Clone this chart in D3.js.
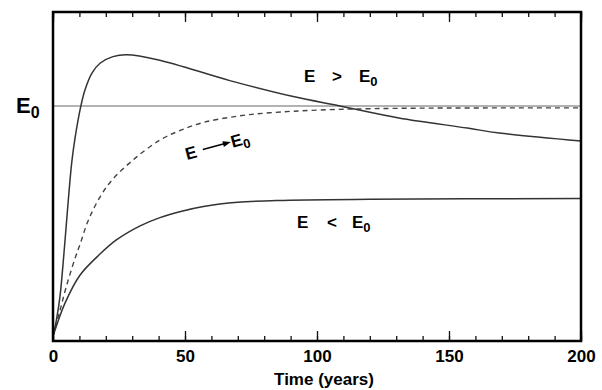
<!DOCTYPE html>
<html>
<head>
<meta charset="utf-8">
<script src="https://cdn.jsdelivr.net/npm/d3@7"></script>
<style>
  body { margin: 0; background: #fff; }
  svg { display: block; font-family: 'Liberation Sans', Arial, sans-serif; font-weight: bold; }
</style>
</head>
<body>
<svg id="chart" width="602" height="390"></svg>
<script>
// time (years) and relative level (E0 = 1)
const upperT = [0, 1.3, 2.65, 4.2, 5.8, 7.1, 8.3, 10.5, 12.1, 14.7, 17.8, 22.7, 27.9, 40, 67, 91, 108.7, 131, 157, 169, 200]
const upperE = [0.02, 0.09, 0.19, 0.38, 0.6, 0.76, 0.86, 0.997, 1.068, 1.139, 1.182, 1.21, 1.218, 1.196, 1.108, 1.04, 1.0, 0.949, 0.906, 0.885, 0.851]

const dashedT = [0, 2.65, 5, 8.3, 10.2, 14, 20.9, 30.3, 40.5, 48, 57, 70, 82, 101, 130, 200]
const dashedE = [0.02, 0.13, 0.23, 0.35, 0.41, 0.53, 0.665, 0.77, 0.855, 0.895, 0.93, 0.957, 0.971, 0.983, 0.99, 0.992]

const lowerT = [0, 4.5, 10.2, 17.8, 24, 33, 40.5, 48, 57, 70, 85, 120, 200]
const lowerE = [0.02, 0.16, 0.28, 0.37, 0.43, 0.49, 0.525, 0.55, 0.572, 0.59, 0.598, 0.603, 0.606]

const E0 = 1
const majorTicks = [0, 50, 100, 150, 200]
const minorTicks = d3.range(0, 201, 10)
const xTitle = 'Time (years)'

const svg = d3.select('#chart')
const mLeft = 53, mRight = 581, mTop = 12, mBottom = 341

const x = d3.scaleLinear().domain([0, 200]).range([mLeft, mRight])
const y = d3.scaleLinear().domain([0, 1.4]).range([mBottom, mTop])

const line = d3.line()
    .x(d => x(d[0]))
    .y(d => y(d[1]))
    .curve(d3.curveCatmullRom.alpha(0.5))

const zip = (ts, es) => ts.map((t, i) => [t, es[i]])

// E0 reference line
svg.append('line')
    .attr('x1', mLeft).attr('x2', mRight)
    .attr('y1', y(E0)).attr('y2', y(E0))
    .attr('stroke', '#666').attr('stroke-width', 1.2)

svg.append('path')
    .attr('d', line(zip(dashedT, dashedE)))
    .attr('fill', 'none').attr('stroke', '#444').attr('stroke-width', 1.4)
    .attr('stroke-dasharray', '5,4')

svg.append('path')
    .attr('d', line(zip(upperT, upperE)))
    .attr('fill', 'none').attr('stroke', '#333').attr('stroke-width', 1.5)

svg.append('path')
    .attr('d', line(zip(lowerT, lowerE)))
    .attr('fill', 'none').attr('stroke', '#333').attr('stroke-width', 1.5)

// ticks, pointing inward, on top and bottom
const tickAxis = (g, axisFn, vals, size, labels) => {
    g.call(axisFn(x).tickValues(vals).tickSizeInner(size).tickSizeOuter(0)
        .tickFormat(labels ? d3.format('d') : ''))
    g.select('.domain').remove()
    g.selectAll('.tick line').attr('stroke', '#111').attr('stroke-width', 1.3)
}

const bottomG = svg.append('g').attr('transform', `translate(0,${mBottom})`)
tickAxis(bottomG.append('g'), d3.axisBottom, minorTicks, -5, false)
tickAxis(bottomG.append('g'), d3.axisBottom, majorTicks, -10, true)
bottomG.selectAll('.tick text')
    .attr('y', 9).attr('dy', '0.71em')
    .style('font-size', '17px').style('font-weight', 'bold')
    .style('font-family', "'Liberation Sans', Arial, sans-serif")
    .attr('fill', '#000')

const topG = svg.append('g').attr('transform', `translate(0,${mTop})`)
tickAxis(topG.append('g'), d3.axisTop, minorTicks, -5, false)
tickAxis(topG.append('g'), d3.axisTop, majorTicks, -10, false)

// frame
svg.append('rect')
    .attr('x', mLeft).attr('y', mTop)
    .attr('width', mRight - mLeft).attr('height', mBottom - mTop)
    .attr('fill', 'none').attr('stroke', '#000').attr('stroke-width', 2.5)

svg.append('text')
    .attr('x', (mLeft + mRight) / 2 + 7).attr('y', 385)
    .attr('text-anchor', 'middle')
    .style('font-size', '17px')
    .text(xTitle)

// E0 label on y axis
const e0Label = svg.append('text').attr('x', 16).attr('y', y(E0) + 7).style('font-size', '22px')
e0Label.append('tspan').text('E')
e0Label.append('tspan').attr('dy', 5).style('font-size', '16px').text('0')

// curve labels
const addLabel = (xs, baseY, rel) => {
    const t = svg.append('text').attr('y', baseY).style('font-size', '17px')
    t.append('tspan').attr('x', xs[0]).text('E')
    t.append('tspan').attr('x', xs[1]).text(rel)
    t.append('tspan').attr('x', xs[2]).text('E')
    t.append('tspan').attr('dy', 4).style('font-size', '13px').text('0')
}
addLabel([304, 332, 359], 82, '>')
addLabel([297, 327, 352], 228, '<')

const arrowG = svg.append('g').attr('transform', 'translate(187,160) rotate(-15)')
arrowG.append('text').attr('x', 0).attr('y', 0).style('font-size', '17px').text('E')
arrowG.append('line')
    .attr('x1', 18).attr('x2', 42).attr('y1', -6).attr('y2', -6)
    .attr('stroke', '#000').attr('stroke-width', 1.6)
arrowG.append('path')
    .attr('d', 'M47,-6 L39,-9 L39,-3 Z')
    .attr('fill', '#000')
const arrowE0 = arrowG.append('text').attr('x', 47).attr('y', 0).style('font-size', '17px')
arrowE0.append('tspan').text('E')
arrowE0.append('tspan').attr('dy', 4).style('font-size', '13px').text('0')
</script>
</body>
</html>
